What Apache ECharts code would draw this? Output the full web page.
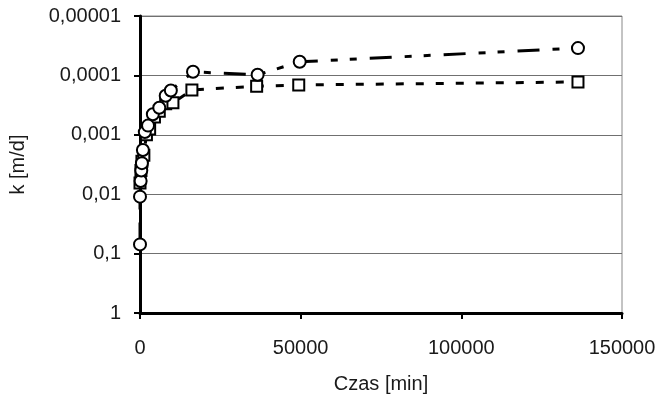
<!DOCTYPE html>
<html>
<head>
<meta charset="utf-8">
<script src="https://cdn.jsdelivr.net/npm/echarts@6/dist/echarts.min.js"></script>
<style>
  html, body { margin: 0; padding: 0; background: #fff; }
  #chart { width: 663px; height: 409px; }
</style>
</head>
<body>
<div id="chart"></div>
<script>
// Time in minutes for the circle-marked series
const timeCircles = [0, 0, 200, 400, 600, 900, 1500, 2500, 4000, 6000, 8000, 9600, 16500, 36600, 49700, 136300];
// Hydraulic conductivity k [m/d] for the circle-marked series
const kCircles = [0.07, 0.011, 0.006, 0.004, 0.003, 0.0018, 0.0009, 0.0007, 0.00045, 0.00035, 0.00022, 0.00018, 0.000087, 0.0000977, 0.000059, 0.0000347];

// Time in minutes for the square-marked series
const timeSquares = [0, 300, 600, 1200, 2000, 3000, 4500, 6000, 8000, 10250, 16150, 36300, 49400, 136300];
// Hydraulic conductivity k [m/d] for the square-marked series
const kSquares = [0.0065, 0.004, 0.0028, 0.0022, 0.001, 0.0008, 0.0005, 0.0004, 0.0003, 0.00029, 0.000176, 0.000152, 0.000145, 0.000129];

// Decade labels on the k axis, indexed by -log10(value)
const kTickLabels = ['1', '0,1', '0,01', '0,001', '0,0001', '0,00001'];

const pair = (xs, ys) => xs.map((x, i) => [x, ys[i]]);

const chart = echarts.init(document.getElementById('chart'));
const font = '"Liberation Sans", Arial, sans-serif';
const textColor = '#1a1a1a';

chart.setOption({
  animation: false,
  backgroundColor: '#ffffff',
  grid: {
    left: 139, right: 41, top: 16, bottom: 96,
    show: true, borderColor: '#888', borderWidth: 1, backgroundColor: 'transparent'
  },
  xAxis: {
    type: 'value',
    min: 0, max: 150000, interval: 50000,
    name: 'Czas [min]',
    nameLocation: 'middle',
    nameGap: 61,
    nameTextStyle: { fontFamily: font, fontSize: 20, color: textColor },
    axisLine: { lineStyle: { color: '#000', width: 3 } },
    axisTick: { show: true, length: 6, lineStyle: { color: '#000', width: 2 } },
    axisLabel: {
      fontFamily: font, fontSize: 20, color: textColor, margin: 25,
      formatter: v => String(v)
    },
    splitLine: { show: false }
  },
  yAxis: {
    type: 'log',
    logBase: 10,
    min: 0.00001, max: 1,
    inverse: true,
    name: 'k [m/d]',
    nameLocation: 'middle',
    nameRotate: 90,
    nameGap: 112,
    nameTextStyle: { fontFamily: font, fontSize: 20, color: textColor },
    axisLine: { lineStyle: { color: '#000', width: 3 } },
    axisTick: { show: true, length: 6, lineStyle: { color: '#000', width: 2 } },
    axisLabel: {
      fontFamily: font, fontSize: 20, color: textColor, margin: 19,
      formatter: v => kTickLabels[Math.round(-Math.log10(v))]
    },
    splitLine: { show: true, lineStyle: { color: '#707070', width: 1 } }
  },
  series: [
    {
      type: 'line',
      data: pair(timeCircles, kCircles),
      symbol: 'circle',
      symbolSize: 12,
      itemStyle: { color: '#fff', borderColor: '#000', borderWidth: 2 },
      lineStyle: { color: '#000', width: 3, type: [22, 13, 7, 12, 7, 13] },
      z: 3
    },
    {
      type: 'line',
      data: pair(timeSquares, kSquares),
      symbol: 'rect',
      symbolSize: 11,
      itemStyle: { color: '#fff', borderColor: '#000', borderWidth: 2 },
      lineStyle: { color: '#000', width: 3, type: [8, 12] },
      z: 2
    }
  ]
});
</script>
</body>
</html>
